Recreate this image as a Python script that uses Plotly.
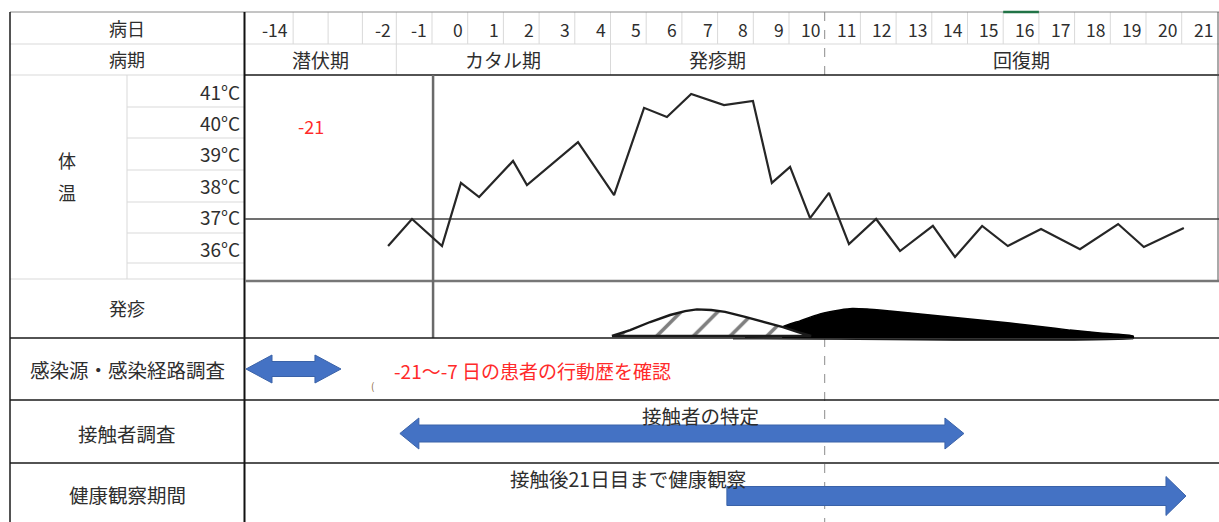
import plotly.graph_objects as go

# ---------------- data ----------------
day_labels = ["-14", "", "", "-2", "-1"] + [str(i) for i in range(0, 22)]
day_edges = [-5.24, -3.89, -2.91, -1.95, -1] + list(range(0, 23))

phase_labels = ["潜伏期", "カタル期", "発疹期", "回復期"]
phase_edges = [-5.24, -1, 5, 11, 22.045]

temp_ticks = ["41°C", "40°C", "39°C", "38°C", "37°C", "36°C"]

# body temperature (day position, °C)
temp_day = [-1.23, -0.56, 0.28, 0.81, 1.32, 2.27, 2.66, 4.09, 5.10, 5.94,
            6.58, 7.26, 8.18, 8.99, 9.52, 10.03, 10.59, 11.12, 11.68, 12.44,
            13.11, 14.03, 14.65, 15.41, 16.13, 17.06, 18.15, 19.22, 19.94, 21.06]
temp_val = [36.14, 37.00, 36.14, 38.15, 37.70, 38.85, 38.08, 39.45, 37.76, 40.54,
            40.25, 40.98, 40.63, 40.76, 38.15, 38.66, 37.03, 37.83, 36.20, 37.00,
            35.98, 36.78, 35.79, 36.78, 36.14, 36.68, 36.04, 36.84, 36.11, 36.71]

# early (hatched) rash intensity
rash1_day = [5.04, 5.55, 6.11, 6.67, 7.09, 7.42, 7.82, 8.21, 8.77, 9.33, 9.83, 10.25, 10.62]
rash1_lvl = [0.0, 0.21, 0.50, 0.75, 0.89, 0.95, 0.93, 0.86, 0.68, 0.50, 0.32, 0.14, 0.0]

# main (black) rash intensity
rash2_day = [9.83, 10.31, 10.87, 11.43, 11.77, 12.19, 12.83, 13.67, 14.51, 15.35,
             16.19, 17.03, 17.87, 18.71, 19.64]
rash2_lvl = [0.32, 0.54, 0.79, 0.93, 0.98, 0.96, 0.89, 0.79, 0.68, 0.57,
             0.46, 0.34, 0.21, 0.11, 0.0]

row_labels = ["感染源・感染経路調査", "接触者調査", "健康観察期間"]
arrow_start = [-5.21, -0.90, 8.26]
arrow_end = [-2.55, 14.90, 21.12]
arrow_double = [True, True, False]
arrow_texts = ["-21～-7 日の患者の行動歴を確認", "接触者の特定", "接触後21日目まで健康観察"]

# ---------------- layout helpers (pixels) ----------------
W, H = 1219, 522
X0, S = 432.0, 35.7          # pixel of day 0 left edge, pixels per day


def dx(px):
    return (px - X0) / S


T37, TS = 219.0, 31.4         # pixel of 37°C, pixels per °C
R0, RS = 336.0, 28.0          # pixel of rash baseline, pixels per unit

FONT = "Noto Sans CJK JP"
TXT = "#2e2e2e"
LIGHT = "#d9d9d9"

fig = go.Figure()

# rash: black filled shape
fig.add_trace(go.Scatter(
    x=[rash2_day[0]] + rash2_day + [rash2_day[-1], dx(745)],
    y=[-0.07] + rash2_lvl + [-0.07, -0.07],
    yaxis="y3", mode="lines", fill="toself", fillcolor="black",
    line=dict(color="black", width=1.5, shape="spline", smoothing=0.5), hoverinfo="skip"))
# black baseline
fig.add_trace(go.Scatter(
    x=[dx(733), rash2_day[-1]], y=[-0.1, -0.1], yaxis="y3", mode="lines",
    line=dict(color="#333", width=1.5), hoverinfo="skip"))
# hatched rash
fig.add_trace(go.Scatter(
    x=rash1_day + [rash1_day[0]], y=rash1_lvl + [rash1_lvl[0]], yaxis="y3",
    mode="lines", fill="toself", fillcolor="white",
    fillpattern=dict(shape="/", fgcolor="black", bgcolor="white", size=26, solidity=0.14),
    line=dict(color="#1a1a1a", width=2.4), hoverinfo="skip"))

# temperature line
fig.add_trace(go.Scatter(
    x=temp_day, y=temp_val, yaxis="y2", mode="lines",
    line=dict(color="#262626", width=2.2), hoverinfo="skip"))

# arrows
arrow_geom = [(369, 7.5, 14, 26), (433.5, 8.5, 15.5, 19), (496, 9.5, 19.5, 20)]
for s, e, dbl, (cy, sh, hh, hl) in zip(arrow_start, arrow_end, arrow_double, arrow_geom):
    hd = hl / S
    if dbl:
        xs = [s, s + hd, s + hd, e - hd, e - hd, e, e - hd, e - hd, s + hd, s + hd, s]
        ys = [cy, cy - hh, cy - sh, cy - sh, cy - hh, cy, cy + hh, cy + sh, cy + sh, cy + hh, cy]
    else:
        xs = [s, e - hd, e - hd, e, e - hd, e - hd, s, s]
        ys = [cy - sh, cy - sh, cy - hh, cy, cy + hh, cy + sh, cy + sh, cy - sh]
    fig.add_trace(go.Scatter(
        x=xs, y=ys, mode="lines", fill="toself", fillcolor="#4472C4",
        line=dict(color="#3a62a8", width=1), hoverinfo="skip"))

shapes = []


def hline(y, x0, x1, color, width=1, dash="solid", yref="y"):
    shapes.append(dict(type="line", xref="x", yref=yref, x0=dx(x0), x1=dx(x1), y0=y, y1=y,
                       line=dict(color=color, width=width, dash=dash), layer="below"))


def vline_d(d, y0, y1, color, width=1, dash="solid", layer="below"):
    shapes.append(dict(type="line", xref="x", yref="y", x0=d, x1=d, y0=y0, y1=y1,
                       line=dict(color=color, width=width, dash=dash), layer=layer))


# light grid
hline(44, 10, W, LIGHT)
hline(75, 10, 245, LIGHT)
for yy in [107, 138, 170, 202, 233, 263]:
    hline(yy, 127, 245, LIGHT)
hline(279, 10, 245, LIGHT)
vline_d(dx(127), 75, 279, LIGHT)
for d in day_edges[1:-1]:
    if d != 11:
        vline_d(d, 12, 44, LIGHT)
for d in phase_edges[1:3]:
    vline_d(d, 44, 75, LIGHT)

# dashed day-11 line
vline_d(11, 12, 75, "#8c8c8c", 1, "dash")
vline_d(11, 338, 522, "#8c8c8c", 1, "dash")

# borders
hline(12, 10, W, "#8a8a8a", 1)
hline(75, 245, W, "#1a1a1a", 1.5)
vline_d(dx(10), 12, 522, "#1a1a1a", 1.5)
vline_d(dx(244.5), 12, 522, "#111", 2)
vline_d(dx(1218), 12, 281, "#555", 1)
hline(281, 245, W, "#777", 2.5)
vline_d(0.03, 75, 338, "#6a6a6a", 2.5)
hline(37, 245, W, "#404040", 1.5, yref="y2")
for yy in [338, 400, 463]:
    hline(yy, 10, W, "#1a1a1a", 1.5)
# selected cell marker
shapes.append(dict(type="line", xref="x", yref="y", x0=16, x1=17, y0=12, y1=12,
                   line=dict(color="#217346", width=2.5)))

ann = []


def text(x, y, s, size=16, color=TXT, xanchor="center", xref="x"):
    ann.append(dict(x=x, y=y, xref=xref, yref="y", text=s, showarrow=False,
                    xanchor=xanchor, yanchor="middle",
                    font=dict(family=FONT, size=size, color=color)))


text(dx(127), 28, "病日", 18)
text(dx(127), 59, "病期", 18)
for lab, r in zip(day_labels, day_edges[1:]):
    if lab:
        text(r - 0.08, 29, lab, 17.5, xanchor="right")
for lab, a, b in zip(phase_labels, phase_edges[:-1], phase_edges[1:]):
    text((a + b) / 2, 59, lab, 19)
for i, lab in enumerate(temp_ticks):
    text(dx(242), 91 + i * 31.4, lab, 19, xanchor="right")
text(dx(67), 160, "体", 18)
text(dx(67), 192, "温", 18)
text(dx(127), 308, "発疹", 18)
text(dx(127), 369, row_labels[0], 19.5)
text(dx(127), 433, row_labels[1], 19.5)
text(dx(127), 494, row_labels[2], 19.5)

text(dx(311), 126, "-21", 18, color="#ff2a2a")
text(dx(392), 370, arrow_texts[0], 19, color="#ff2a2a", xanchor="left")
text(dx(372), 385, "(", 10, color="#8a6a3a")
text(dx(700), 415, arrow_texts[1], 19.5)
text(dx(628), 478, arrow_texts[2], 19.5)

fig.update_layout(
    width=W, height=H, margin=dict(l=0, r=0, t=0, b=0),
    paper_bgcolor="white", plot_bgcolor="white", showlegend=False,
    xaxis=dict(range=[dx(0), dx(W)], visible=False, fixedrange=True),
    yaxis=dict(range=[H, 0], visible=False, fixedrange=True),
    yaxis2=dict(range=[37 - (H - T37) / TS, 37 + T37 / TS], overlaying="y",
                visible=False, fixedrange=True),
    yaxis3=dict(range=[(R0 - H) / RS, R0 / RS], overlaying="y",
                visible=False, fixedrange=True),
    shapes=shapes, annotations=ann,
)

fig.write_html("out.html", config={"displayModeBar": False},
               post_script="document.body.style.margin='0';document.body.style.overflow='hidden';")
